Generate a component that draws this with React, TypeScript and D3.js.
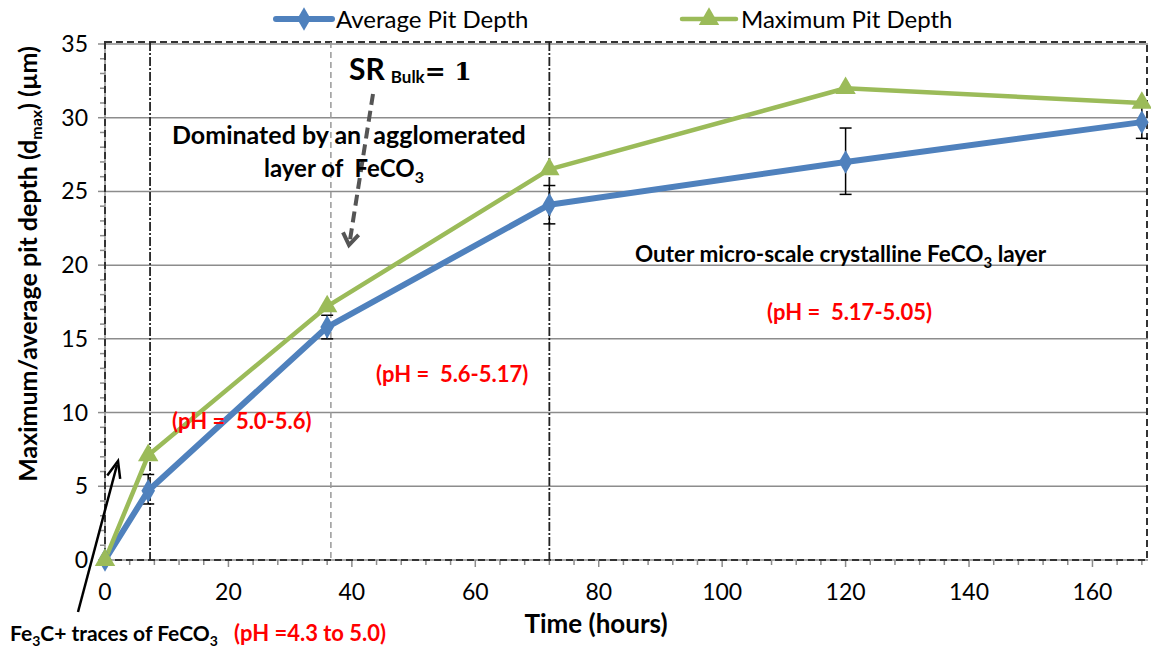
import React from "react";
import * as d3 from "d3";

// Sampling times (hours)
const hours = [0, 7, 36, 72, 120, 168];
// Average pit depth (µm) with error bar bounds
const avgDepth = [0, 4.7, 15.8, 24.1, 27.0, 29.7];
const avgLow = [0, 3.8, 15.0, 22.8, 24.8, 28.6];
const avgHigh = [0, 5.8, 16.6, 25.4, 29.3, 30.8];
// Maximum pit depth (µm)
const maxDepth = [0, 7.1, 17.2, 26.5, 32.0, 31.0];

const xTicks = [0, 20, 40, 60, 80, 100, 120, 140, 160];
const yTicks = [0, 5, 10, 15, 20, 25, 30, 35];

// Phase boundaries (hours)
const phaseLines = [
  { x: 7.3, kind: "solid" },
  { x: 36.6, kind: "grey" },
  { x: 72, kind: "solid" },
];

const W = 1151;
const H = 650;
const FONT = "Lato, 'Open Sans', sans-serif";
const BLUE = "#4F81BD";
const GREEN = "#9BBB59";
const RED = "#FF0000";

export default function App() {
  const x = d3.scaleLinear().domain([0, 169]).range([105, 1148]);
  const y = d3.scaleLinear().domain([0, 35]).range([560, 44]);

  const line = d3
    .line<number>()
    .x((_, i) => x(hours[i]))
    .y((d) => y(d));

  const minorX = d3.range(0, 169, 4);
  const minorY = d3.range(0, 36, 1);

  const diamond = d3.symbol().type(d3.symbolDiamond).size(160)();
  const triangle = d3.symbol().type(d3.symbolTriangle).size(180)();

  const arrowHead = (x1: number, y1: number, x2: number, y2: number, len: number, spread: number) => {
    const a = Math.atan2(y2 - y1, x2 - x1);
    const p1 = [x2 - len * Math.cos(a - spread), y2 - len * Math.sin(a - spread)];
    const p2 = [x2 - len * Math.cos(a + spread), y2 - len * Math.sin(a + spread)];
    return `M${p1[0]},${p1[1]}L${x2},${y2}L${p2[0]},${p2[1]}`;
  };

  return (
    <svg width={W} height={H} style={{ display: "block", position: "absolute", left: 0, top: 0 }} fontFamily={FONT}>
      <rect width={W} height={H} fill="#fff" />

      {/* horizontal gridlines */}
      {yTicks.map((t) => (
        <line key={"g" + t} x1={x(0)} x2={x(169)} y1={y(t)} y2={y(t)} stroke="#8c8c8c" strokeWidth={1.5} />
      ))}

      {/* y axis line and ticks */}
      <line x1={x(0)} x2={x(0)} y1={y(0)} y2={y(35)} stroke="#8c8c8c" strokeWidth={1.5} />
      {minorY.map((t) => (
        <line
          key={"yt" + t}
          x1={x(0) - (t % 5 === 0 ? 7 : 5)}
          x2={x(0)}
          y1={y(t)}
          y2={y(t)}
          stroke="#8c8c8c"
          strokeWidth={1.5}
        />
      ))}
      {yTicks.map((t) => (
        <text key={"yl" + t} x={88} y={y(t) + 8} textAnchor="end" fontSize={23} fill="#000">
          {t}
        </text>
      ))}

      {/* x axis ticks */}
      {minorX.map((t) => (
        <line
          key={"xt" + t}
          x1={x(t)}
          x2={x(t)}
          y1={y(0)}
          y2={y(0) + (t % 20 === 0 ? 7 : 5)}
          stroke="#8c8c8c"
          strokeWidth={1.5}
        />
      ))}
      {xTicks.map((t) => (
        <text key={"xl" + t} x={x(t)} y={600} textAnchor="middle" fontSize={23} fill="#000">
          {t}
        </text>
      ))}

      {/* dashed plot frame */}
      <rect
        x={x(0)}
        y={42}
        width={x(169) - x(0) - 1}
        height={y(0) - 42}
        fill="none"
        stroke="#333"
        strokeWidth={2}
        strokeDasharray="7,4"
      />

      {/* phase boundaries */}
      {phaseLines.map((p) => (
        <line
          key={"p" + p.x}
          x1={x(p.x)}
          x2={x(p.x)}
          y1={42}
          y2={y(0)}
          stroke={p.kind === "grey" ? "#999" : "#222"}
          strokeWidth={p.kind === "grey" ? 1.5 : 1.8}
          strokeDasharray={p.kind === "grey" ? "6,4" : "9,2,2,2"}
        />
      ))}

      {/* error bars for average depth */}
      {hours.map((h, i) =>
        i === 0 ? null : (
          <g key={"e" + i} stroke="#000" strokeWidth={1.5}>
            <line x1={x(h)} x2={x(h)} y1={y(avgLow[i])} y2={y(avgHigh[i])} />
            <line x1={x(h) - 6} x2={x(h) + 6} y1={y(avgLow[i])} y2={y(avgLow[i])} />
            <line x1={x(h) - 6} x2={x(h) + 6} y1={y(avgHigh[i])} y2={y(avgHigh[i])} />
          </g>
        )
      )}

      {/* series */}
      <path d={line(avgDepth) ?? ""} fill="none" stroke={BLUE} strokeWidth={6} strokeLinejoin="round" />
      <path d={line(maxDepth) ?? ""} fill="none" stroke={GREEN} strokeWidth={4.5} strokeLinejoin="round" />
      {avgDepth.map((v, i) => (
        <path key={"d" + i} d={diamond ?? ""} transform={`translate(${x(hours[i])},${y(v)})`} fill={BLUE} />
      ))}
      {maxDepth.map((v, i) => (
        <path key={"t" + i} d={triangle ?? ""} transform={`translate(${x(hours[i])},${y(v)})`} fill={GREEN} />
      ))}

      {/* legend */}
      <line x1={276} x2={332} y1={19} y2={19} stroke={BLUE} strokeWidth={6} strokeLinecap="round" />
      <path d={diamond ?? ""} transform="translate(304,19)" fill={BLUE} />
      <text x={336} y={28} fontSize={24} fill="#000">Average Pit Depth</text>
      <line x1={682} x2={736} y1={19} y2={19} stroke={GREEN} strokeWidth={4.5} strokeLinecap="round" />
      <path d={triangle ?? ""} transform="translate(709,19)" fill={GREEN} />
      <text x={741} y={28} fontSize={24} fill="#000">Maximum Pit Depth</text>

      {/* axis titles */}
      <text x={596} y={633} textAnchor="middle" fontSize={26} fontWeight="bold" fill="#000">
        Time (hours)
      </text>
      <text
        transform="translate(37,264) rotate(-90)"
        textAnchor="middle"
        fontSize={25}
        fontWeight="bold"
        fill="#000"
      >
        Maximum/average pit depth (d
        <tspan fontSize={16} dy={5}>max</tspan>
        <tspan dy={-5}>) (µm)</tspan>
      </text>

      {/* annotations */}
      <text x={349} y={80} fontSize={30} fontWeight="bold" fill="#000">
        SR
        <tspan fontSize={17} dx={6} dy={3}>Bulk</tspan>
        <tspan fontFamily="'DejaVu Serif', serif" fontSize={25} dy={-3}>= 1</tspan>
      </text>
      <line x1={373} y1={94} x2={350} y2={240} stroke="#555" strokeWidth={4} strokeDasharray="11,6" />
      <path d={arrowHead(373, 94, 349, 245, 14, 0.6)} fill="none" stroke="#555" strokeWidth={4} />

      <text x={172} y={144} fontSize={25} fontWeight="bold" fill="#000" style={{ whiteSpace: "pre" }}>
        {"Dominated by an  agglomerated"}
      </text>
      <text x={264} y={177} fontSize={24} fontWeight="bold" fill="#000" style={{ whiteSpace: "pre" }}>
        {"layer of  FeCO"}
        <tspan fontSize={16} dy={6}>3</tspan>
      </text>

      <text x={635} y={262} fontSize={22.5} fontWeight="bold" fill="#000">
        Outer micro-scale crystalline FeCO<tspan fontSize={15} dy={6}>3</tspan>
        <tspan dy={-6}> layer</tspan>
      </text>

      <text x={767} y={320} fontSize={22} fontWeight="bold" fill={RED} style={{ whiteSpace: "pre" }}>
        {"(pH =  5.17-5.05)"}
      </text>
      <text x={376} y={382} fontSize={22} fontWeight="bold" fill={RED} style={{ whiteSpace: "pre" }}>
        {"(pH =  5.6-5.17)"}
      </text>
      <text x={172} y={429} fontSize={22} fontWeight="bold" fill={RED} style={{ whiteSpace: "pre" }}>
        {"(pH =  5.0-5.6)"}
      </text>

      <line x1={78} y1={612} x2={117} y2={465} stroke="#000" strokeWidth={2.5} />
      <path d={arrowHead(78, 612, 118, 461, 18, 0.38)} fill="none" stroke="#000" strokeWidth={2.5} />

      <text x={10} y={641} fontSize={21} fontWeight="bold" fill="#000">
        Fe<tspan fontSize={14} dy={5}>3</tspan>
        <tspan dy={-5}>C+ traces of FeCO</tspan>
        <tspan fontSize={14} dy={5}>3</tspan>
      </text>
      <text x={234} y={641} fontSize={22} fontWeight="bold" fill={RED}>
        (pH =4.3 to 5.0)
      </text>
    </svg>
  );
}
